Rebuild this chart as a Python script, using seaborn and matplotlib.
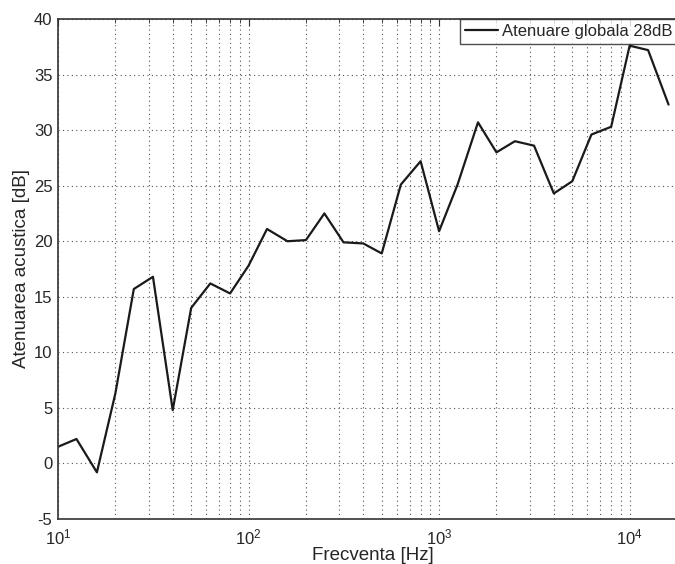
import matplotlib
matplotlib.use("Agg")
import matplotlib.pyplot as plt
import seaborn as sns
import pandas as pd
from matplotlib.ticker import LogLocator, FixedLocator

freq_hz = [10, 12.5, 16, 20, 25, 31.5, 40, 50, 63, 80, 100, 125, 160, 200, 250,
           315, 400, 500, 630, 800, 1000, 1250, 1600, 2000, 2500, 3150, 4000,
           5000, 6300, 8000, 10000, 12500, 16000]
atten_db = [1.5, 2.2, -0.8, 6.3, 15.7, 16.8, 4.8, 14.0, 16.2, 15.3, 17.8, 21.1,
            20.0, 20.1, 22.5, 19.9, 19.8, 18.9, 25.1, 27.2, 20.9, 25.1, 30.7,
            28.0, 29.0, 28.6, 24.3, 25.4, 29.6, 30.3, 37.6, 37.2, 32.3]
series_label = "Atenuare globala 28dB"
y_ticks = [-5, 0, 5, 10, 15, 20, 25, 30, 35, 40]

df = pd.DataFrame({"freq": freq_hz, "atten": atten_db})

sns.set_style("white")
plt.rcParams["font.family"] = ["Liberation Sans", "DejaVu Sans"]
plt.rcParams["mathtext.fontset"] = "custom"
plt.rcParams["mathtext.rm"] = "Liberation Sans"
plt.rcParams["mathtext.it"] = "Liberation Sans"
plt.rcParams["axes.unicode_minus"] = False

fig = plt.figure(figsize=(6.75, 5.64), dpi=100)
W, H = 675, 564
left, right, top, bottom = 58, 687, 19, 519
ax = fig.add_axes([left / W, (H - bottom) / H, (right - left) / W, (bottom - top) / H])

sns.lineplot(data=df, x="freq", y="atten", ax=ax, color="#1a1a1a", linewidth=1.6,
             label=series_label)
ax.set_xscale("log")
ax.set_xlim(10, 20000)
ax.set_ylim(-5, 40)
ax.yaxis.set_major_locator(FixedLocator(y_ticks))
ax.xaxis.set_major_locator(LogLocator(base=10, numticks=10))
ax.xaxis.set_minor_locator(LogLocator(base=10, subs=range(2, 10), numticks=100))

ax.grid(True, which="major", axis="both", color="#555555", linestyle=(0, (1, 3)), linewidth=0.8)
ax.grid(True, which="minor", axis="x", color="#555555", linestyle=(0, (1, 3)), linewidth=0.8)

ax.tick_params(axis="both", which="both", direction="in", top=True, right=True,
               labelsize=12, color="#333333")
ax.tick_params(axis="both", which="major", length=5)
ax.tick_params(axis="x", which="minor", length=3)
ax.tick_params(axis="x", which="major", pad=6)
ax.tick_params(axis="y", which="major", pad=4)
for s in ax.spines.values():
    s.set_color("#333333")
    s.set_linewidth(1.2)

ax.set_xlabel("Frecventa [Hz]", fontsize=13.5, labelpad=0)
ax.set_ylabel("Atenuarea acustica [dB]", fontsize=13.5, labelpad=3)

leg = ax.legend(loc="upper left", bbox_to_anchor=((460 - left) / (right - left), 1.0),
                borderaxespad=0, fancybox=False, frameon=True, fontsize=12,
                handlelength=2.0, handletextpad=0.2, borderpad=0.3)
leg.get_frame().set_edgecolor("#222222")
leg.get_frame().set_linewidth(1.0)

fig.savefig("out.png", dpi=100)
